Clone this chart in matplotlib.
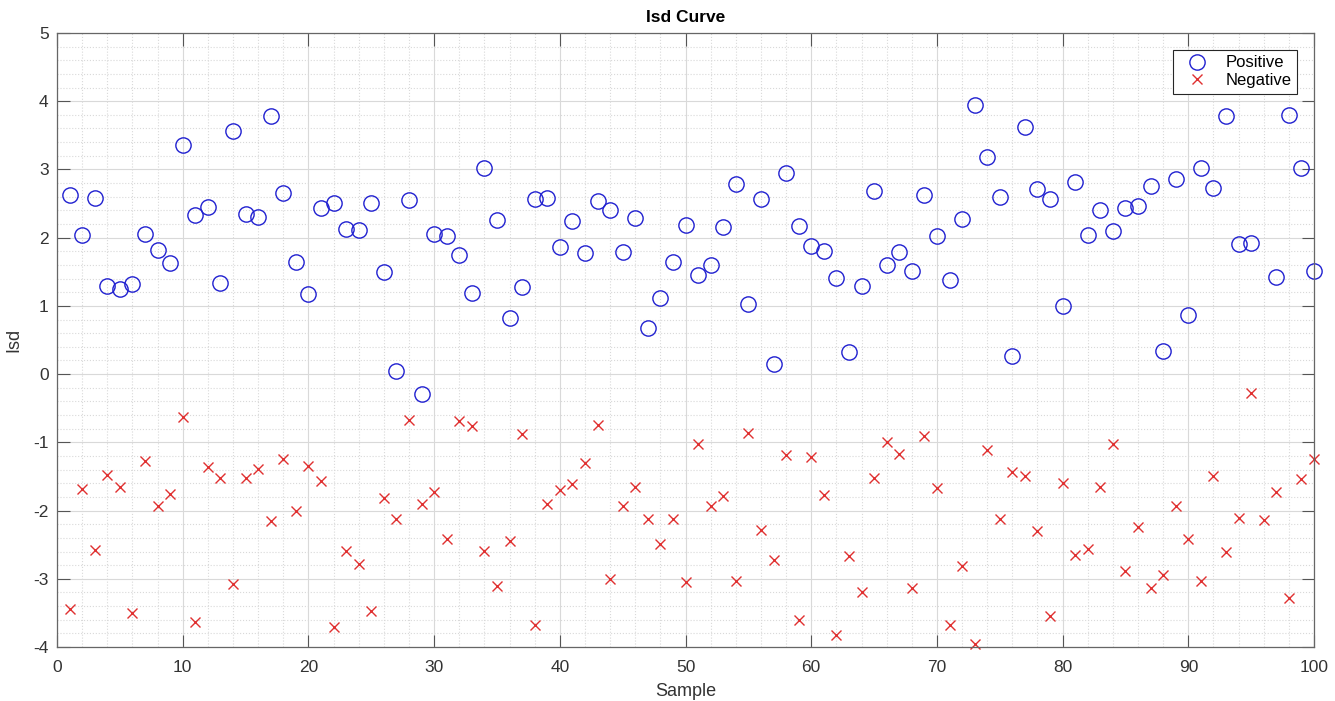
import numpy as np
import matplotlib
matplotlib.use("Agg")
from matplotlib import pyplot as plt
from matplotlib.ticker import MultipleLocator

sample = np.arange(1, 101)

positive = [2.62, 2.04, 2.58, 1.29, 1.24, 1.32, 2.06, 1.82, 1.63, 3.36,
            2.33, 2.45, 1.33, 3.57, 2.35, 2.30, 3.79, 2.66, 1.64, 1.18,
            2.43, 2.51, 2.12, 2.11, 2.51, 1.49, 0.05, 2.55, -0.29, 2.06,
            2.03, 1.74, 1.19, 3.02, 2.26, 0.82, 1.27, 2.57, 2.58, 1.87,
            2.24, 1.78, 2.54, 2.40, 1.79, 2.29, 0.67, 1.12, 1.64, 2.19,
            1.45, 1.60, 2.16, 2.78, 1.03, 2.57, 0.15, 2.95, 2.17, 1.88,
            1.80, 1.41, 0.33, 1.29, 2.68, 1.60, 1.79, 1.51, 2.63, 2.03,
            1.38, 2.27, 3.94, 3.18, 2.60, 0.27, 3.62, 2.71, 2.56, 1.00,
            2.82, 2.04, 2.41, 2.09, 2.43, 2.46, 2.76, 0.34, 2.86, 0.87,
            3.02, 2.73, 3.79, 1.90, 1.92, 4.45, 1.42, 3.80, 3.02, 1.51]

negative = [-3.44, -1.69, -2.58, -1.48, -1.66, -3.50, -1.27, -1.94, -1.75, -0.63,
            -3.63, -1.36, -1.53, -3.08, -1.52, -1.39, -2.16, -1.24, -2.01, -1.34,
            -1.56, -3.71, -2.59, -2.79, -3.47, -1.82, -2.13, -0.68, -1.90, -1.73,
            -2.41, -0.69, -0.76, -2.59, -3.10, -2.44, -0.88, -3.68, -1.90, -1.70,
            -1.61, -1.30, -0.75, -3.00, -1.94, -1.65, -2.12, -2.49, -2.12, -3.05,
            -1.03, -1.93, -1.78, -3.03, -0.87, -2.29, -2.73, -1.18, -3.60, -1.22,
            -1.77, -3.83, -2.66, -3.19, -1.52, -0.99, -1.17, -3.14, -0.91, -1.67,
            -3.68, -2.81, -3.95, -1.11, -2.13, -1.44, -1.50, -2.30, -3.54, -1.60,
            -2.65, -2.56, -1.66, -1.02, -2.89, -2.24, -3.14, -2.95, -1.93, -2.41,
            -3.03, -1.49, -2.61, -2.11, -0.28, -2.14, -1.73, -3.28, -1.54, -1.25]

plt.rcParams['font.family'] = ['Liberation Sans', 'DejaVu Sans']
plt.rcParams['axes.unicode_minus'] = False

fig = plt.figure(figsize=(13.35, 7.01), dpi=100)
ax = fig.add_axes([0.0427, 0.077, 0.9416, 0.876])

ax.plot(sample, positive, 'o', color='#2020d0', markerfacecolor='none',
        markersize=11, markeredgewidth=1.0, label='Positive', clip_on=False)
ax.plot(sample, negative, 'x', color='#e03030', markersize=7,
        markeredgewidth=1.0, label='Negative', clip_on=False)

ax.set_xlim(0, 100)
ax.set_ylim(-4, 5)
ax.xaxis.set_major_locator(MultipleLocator(10))
ax.xaxis.set_minor_locator(MultipleLocator(2))
ax.yaxis.set_major_locator(MultipleLocator(1))
ax.yaxis.set_minor_locator(MultipleLocator(0.2))

ax.grid(which='major', color='#d9d9d9', linestyle='-', linewidth=0.8)
ax.grid(which='minor', color='#d9d9d9', linestyle=':', linewidth=0.8)
ax.set_axisbelow(True)

ax.tick_params(which='both', direction='in', top=True, right=True,
               labelsize=12.5, colors='#555555', labelcolor='#333333')
ax.tick_params(which='major', length=9, pad=6)
ax.tick_params(axis='x', which='major', pad=9)
ax.tick_params(which='minor', length=0)
for s in ax.spines.values():
    s.set_color('#666666')
    s.set_linewidth(0.9)

ax.set_title('Isd Curve', fontsize=12.5, fontweight='bold', pad=8)
ax.set_xlabel('Sample', fontsize=13, labelpad=6, color='#333333')
ax.set_ylabel('Isd', fontsize=13, labelpad=8, color='#333333')

leg = ax.legend(loc='upper right', fontsize=12, fancybox=False, framealpha=1,
                edgecolor='#262626', borderaxespad=1.0, handletextpad=0.6,
                handlelength=2.2, borderpad=0.35, labelspacing=0.15)
leg.get_frame().set_linewidth(0.8)
leg.set_zorder(10)

fig.savefig('out.png', dpi=100)
